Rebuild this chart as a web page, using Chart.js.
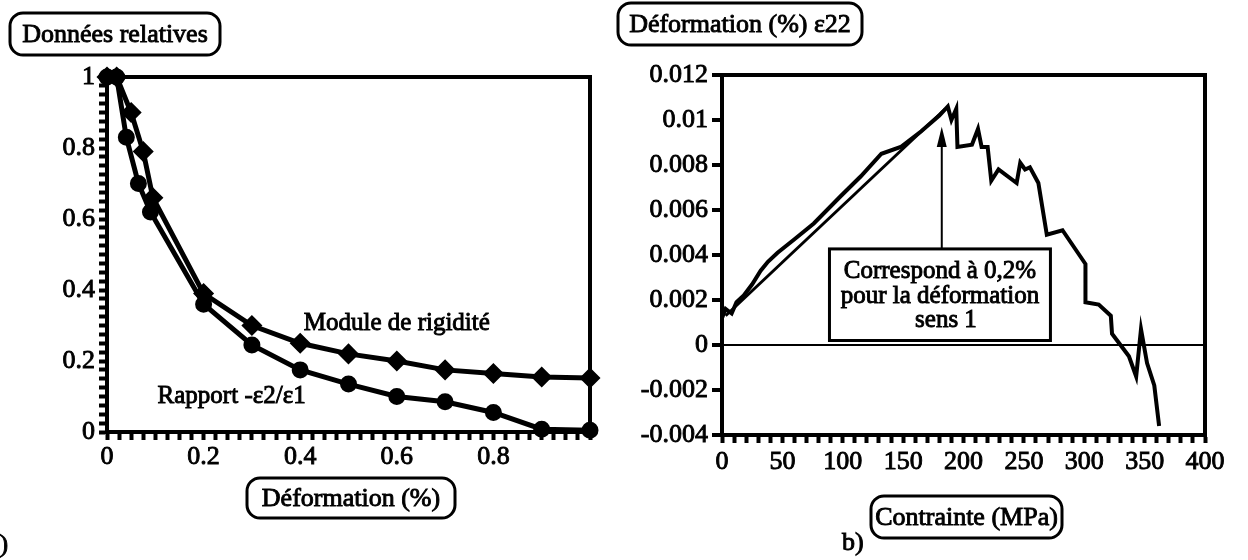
<!DOCTYPE html>
<html>
<head>
<meta charset="utf-8">
<script src="https://cdn.jsdelivr.net/npm/chart.js@4"></script>
<style>
  html, body { margin: 0; padding: 0; background: #fff; width: 1248px; height: 560px; overflow: hidden; }
  .panel { position: absolute; top: 0; height: 560px; }
  #panelA { left: 0; width: 620px; }
  #panelB { left: 610px; width: 638px; }
  .warm { position: absolute; left: -999px; top: 0; font-family: "Liberation Serif"; font-size: 26px; }
</style>
</head>
<body>
<div class="warm">Données ε 0.012</div>
<div class="panel" id="panelA"><canvas id="chartA"></canvas></div>
<div class="panel" id="panelB"><canvas id="chartB"></canvas></div>
<script>
// a) données relatives en fonction de la déformation (%)
const moduleX = [0, 0.02, 0.05, 0.075, 0.095, 0.2, 0.3, 0.4, 0.5, 0.6, 0.7, 0.8, 0.9, 1.0];
const moduleY = [1, 1, 0.9, 0.79, 0.66, 0.39, 0.30, 0.25, 0.22, 0.20, 0.175, 0.165, 0.155, 0.152];
const rapportX = [0, 0.02, 0.04, 0.065, 0.09, 0.2, 0.3, 0.4, 0.5, 0.6, 0.7, 0.8, 0.9, 1.0];
const rapportY = [1, 1, 0.83, 0.70, 0.62, 0.36, 0.245, 0.175, 0.135, 0.10, 0.085, 0.055, 0.008, 0.005];

// b) déformation eps22 en fonction de la contrainte (MPa)
const contrainte = [0, 3, 8, 12, 18, 25, 32, 38, 46, 60, 76, 98, 115, 132, 148, 165, 180, 187, 190, 194,
  195, 207, 212, 215, 220, 223, 229, 244, 247, 251, 255, 262, 269, 282, 301, 301, 312, 322, 323,
  337, 343, 347, 352, 358, 362];
const eps22 = [0.0012, 0.0016, 0.0014, 0.0019, 0.0022, 0.0027, 0.0033, 0.0037, 0.0041, 0.0047, 0.0054,
  0.0066, 0.0075, 0.0085, 0.0088, 0.0095, 0.0102, 0.0106, 0.0100, 0.0105,
  0.0088, 0.0089, 0.0096, 0.0088, 0.0088, 0.0073, 0.0078, 0.0072, 0.0081, 0.0078, 0.0079, 0.0072,
  0.0049, 0.0051, 0.0036, 0.0019, 0.0018, 0.0013, 0.0005,
  -0.0005, -0.0014, 0.0007, -0.0008, -0.0018, -0.0036];
const droiteX = [3, 185];
const droiteY = [0.0013, 0.0105];

const FONT = '"Liberation Serif"';

function toPoints(xs, ys) {
  return xs.map((x, i) => ({ x: x, y: ys[i] }));
}

function roundBox(ctx, x, y, w, h, r) {
  ctx.beginPath();
  ctx.moveTo(x + r, y);
  ctx.arcTo(x + w, y, x + w, y + h, r);
  ctx.arcTo(x + w, y + h, x, y + h, r);
  ctx.arcTo(x, y + h, x, y, r);
  ctx.arcTo(x, y, x + w, y, r);
  ctx.closePath();
  ctx.stroke();
}

function heavyText(ctx, text, x, y, size) {
  ctx.font = size + 'px ' + FONT;
  ctx.fillStyle = '#000';
  ctx.strokeStyle = '#000';
  ctx.lineWidth = 0.9;
  ctx.fillText(text, x, y);
  ctx.strokeText(text, x, y);
}

function boxedLabel(ctx, text, x, y, w, h) {
  ctx.save();
  ctx.lineWidth = 3;
  ctx.strokeStyle = '#000';
  roundBox(ctx, x, y, w, h, 13);
  ctx.textAlign = 'center';
  ctx.textBaseline = 'middle';
  heavyText(ctx, text, x + w / 2, y + h / 2 + 1, 26);
  ctx.restore();
}

// cadre épais autour de la zone de tracé
const frame = {
  id: 'frame',
  beforeDatasetsDraw(chart) {
    const { ctx, chartArea: a } = chart;
    ctx.save();
    ctx.lineWidth = 4;
    ctx.strokeStyle = '#000';
    ctx.strokeRect(a.left, a.top, a.right - a.left, a.bottom - a.top);
    ctx.restore();
  }
};

const tickFont = { size: 26 };

function axisBase(extra) {
  return Object.assign({
    type: 'linear',
    grid: { drawOnChartArea: false, tickLength: 8, tickWidth: 4, tickColor: '#000' },
    border: { color: '#000', width: 4 }
  }, extra);
}

// ---------- a) ----------
const labelsA = {
  id: 'labelsA',
  afterDraw(chart) {
    const { ctx, scales: { x, y } } = chart;
    ctx.save();
    ctx.textAlign = 'center';
    ctx.textBaseline = 'middle';
    heavyText(ctx, 'Module de rigidité', x.getPixelForValue(0.6), y.getPixelForValue(0.306), 25);
    heavyText(ctx, 'Rapport -ε2/ε1', x.getPixelForValue(0.258), y.getPixelForValue(0.1), 25);
    ctx.textAlign = 'left';
    heavyText(ctx, 'a)', -12, 545, 26);
    ctx.restore();
    boxedLabel(ctx, 'Données relatives', 10, 13, 210, 42);
    boxedLabel(ctx, 'Déformation (%)', 247, 478, 208, 40);
  }
};

// ---------- b) ----------
const labelsB = {
  id: 'labelsB',
  afterDatasetsDraw(chart) {
    const { ctx, scales: { x, y } } = chart;
    // encadré "Correspond à 0,2%"
    const left = x.getPixelForValue(89), right = x.getPixelForValue(272);
    const top = y.getPixelForValue(0.00427), bottom = y.getPixelForValue(0.0002);
    ctx.save();
    ctx.lineWidth = 3;
    ctx.strokeStyle = '#000';
    ctx.strokeRect(left, top, right - left, bottom - top);
    // flèche
    const ax = x.getPixelForValue(182);
    const tip = y.getPixelForValue(0.0097), base = y.getPixelForValue(0.0088);
    ctx.lineWidth = 2;
    ctx.beginPath();
    ctx.moveTo(ax, top);
    ctx.lineTo(ax, base);
    ctx.stroke();
    ctx.fillStyle = '#000';
    ctx.beginPath();
    ctx.moveTo(ax, tip);
    ctx.lineTo(ax - 5, base);
    ctx.lineTo(ax + 5, base);
    ctx.closePath();
    ctx.fill();
    ctx.textAlign = 'center';
    ctx.textBaseline = 'middle';
    const cx = (left + right) / 2;
    heavyText(ctx, 'Correspond à 0,2%', cx, top + 23, 25);
    heavyText(ctx, 'pour la déformation', cx, top + 48, 25);
    heavyText(ctx, 'sens 1', cx + 6, top + 72, 25);
    ctx.restore();
  },
  afterDraw(chart) {
    const { ctx } = chart;
    boxedLabel(ctx, 'Déformation (%) ε22', 8, 3, 244, 42);
    boxedLabel(ctx, 'Contrainte (MPa)', 261, 496, 191, 42);
    ctx.save();
    ctx.textAlign = 'left';
    ctx.textBaseline = 'middle';
    heavyText(ctx, 'b)', 232, 543, 26);
    ctx.restore();
  }
};

function drawCharts() {
  Chart.defaults.font.family = FONT;
  Chart.defaults.color = '#000';

  new Chart('chartA', {
    type: 'line',
    data: {
      datasets: [
        {
          label: 'Module de rigidité',
          data: toPoints(moduleX, moduleY),
          borderColor: '#000',
          backgroundColor: '#000',
          borderWidth: 5,
          pointStyle: 'rectRot',
          pointRadius: 7,
          tension: 0,
          clip: false
        },
        {
          label: 'Rapport -ε2/ε1',
          data: toPoints(rapportX, rapportY),
          borderColor: '#000',
          backgroundColor: '#000',
          borderWidth: 5,
          pointStyle: 'circle',
          pointRadius: 6,
          tension: 0,
          clip: false
        }
      ]
    },
    options: {
      responsive: true,
      maintainAspectRatio: false,
      animation: false,
      layout: { padding: { top: 77, right: 30 } },
      plugins: { legend: { display: false }, tooltip: { enabled: false } },
      scales: {
        x: axisBase({
          min: 0, max: 1,
          afterFit: s => { s.height = 128; },
          ticks: {
            stepSize: 0.025, autoSkip: false, maxRotation: 0, padding: 2, font: tickFont,
            textStrokeWidth: 0.9, textStrokeColor: '#000',
            callback: v => { const k = Math.round(v * 40); return (k % 8 === 0 && k < 40) ? String(k / 40) : ''; }
          }
        }),
        y: axisBase({
          min: 0, max: 1,
          afterFit: s => { s.width = 107; },
          ticks: {
            stepSize: 0.025, autoSkip: false, padding: 4, font: tickFont,
            textStrokeWidth: 0.9, textStrokeColor: '#000',
            callback: v => { const k = Math.round(v * 40); return (k % 8 === 0) ? String(k / 40) : ''; }
          }
        })
      }
    },
    plugins: [frame, labelsA]
  });

  new Chart('chartB', {
    type: 'line',
    data: {
      datasets: [
        {
          label: 'ε22',
          data: toPoints(contrainte, eps22),
          borderColor: '#000',
          borderWidth: 4,
          pointRadius: 0,
          tension: 0
        },
        {
          label: 'droite',
          data: toPoints(droiteX, droiteY),
          borderColor: '#000',
          borderWidth: 3,
          pointRadius: 0,
          tension: 0
        }
      ]
    },
    options: {
      responsive: true,
      maintainAspectRatio: false,
      animation: false,
      layout: { padding: { top: 75, right: 43 } },
      plugins: { legend: { display: false }, tooltip: { enabled: false } },
      scales: {
        x: axisBase({
          min: 0, max: 400,
          afterFit: s => { s.height = 125; },
          ticks: {
            stepSize: 10, autoSkip: false, maxRotation: 0, padding: 4, font: tickFont,
            textStrokeWidth: 0.9, textStrokeColor: '#000',
            callback: v => (Math.round(v) % 50 === 0) ? String(Math.round(v)) : ''
          }
        }),
        y: {
          type: 'linear',
          min: -0.004, max: 0.012,
          afterFit: s => { s.width = 112; },
          grid: {
            drawOnChartArea: true, tickLength: 10, tickWidth: 4, tickColor: '#000', lineWidth: 2,
            color: c => (c.tick && Math.abs(c.tick.value) < 1e-9) ? '#000' : 'rgba(0,0,0,0)'
          },
          border: { color: '#000', width: 4 },
          ticks: {
            stepSize: 0.002, autoSkip: false, padding: 4, font: tickFont,
            textStrokeWidth: 0.9, textStrokeColor: '#000',
            callback: v => String(Math.round(v * 1000) / 1000)
          }
        }
      }
    },
    plugins: [frame, labelsB]
  });
}

document.fonts.load('26px "Liberation Serif"').then(drawCharts, drawCharts);
</script>
</body>
</html>
